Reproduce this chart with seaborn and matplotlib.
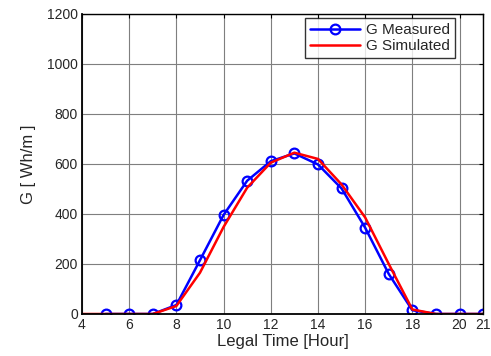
import matplotlib
matplotlib.use('Agg')
import matplotlib.pyplot as plt
import seaborn as sns
import pandas as pd

# ---------- data ----------
hours_meas = [5, 6, 7, 8, 9, 10, 11, 12, 13, 14, 15, 16, 17, 18, 19, 20, 21]
g_meas = [0, 0, 0, 36, 215, 396, 533, 611, 642, 598, 502, 345, 160, 15, 0, 0, 0]

hours_sim = [4, 5, 6, 7, 8, 9, 10, 11, 12, 13, 14, 15, 16, 17, 18, 19, 20, 21]
g_sim = [0, 0, 0, 0, 32, 165, 348, 505, 605, 645, 620, 518, 386, 200, 18, 0, 0, 0]

x_ticks = [4, 6, 8, 10, 12, 14, 16, 18, 20, 21]
y_ticks = [0, 200, 400, 600, 800, 1000, 1200]

df_meas = pd.DataFrame({'hour': hours_meas, 'G': g_meas})
df_sim = pd.DataFrame({'hour': hours_sim, 'G': g_sim})

# ---------- plot ----------
sns.set_style('white')
plt.rcParams['font.family'] = ['Liberation Sans', 'DejaVu Sans']

fig, ax = plt.subplots(figsize=(4.91, 3.56), dpi=100)
fig.subplots_adjust(left=0.167, right=0.984, bottom=0.118, top=0.961)

sns.lineplot(data=df_meas, x='hour', y='G', ax=ax, color='#0000ff', lw=1.8,
             marker='o', markersize=7, markerfacecolor='none',
             markeredgecolor='#0000ff', markeredgewidth=1.6, label='G Measured')
sns.lineplot(data=df_sim, x='hour', y='G', ax=ax, color='#ff0000', lw=1.8,
             label='G Simulated')

ax.set_xlim(4, 21)
ax.set_ylim(0, 1200)
ax.set_xticks(x_ticks)
ax.set_yticks(y_ticks)
ax.tick_params(direction='in', length=3, width=0.8, labelsize=10, color='black',
               top=True, right=True, pad=3)
ax.grid(True, color='#7f7f7f', lw=0.8)
for s in ax.spines.values():
    s.set_color('black')
    s.set_linewidth(1.0)
ax.spines['left'].set_linewidth(1.3)
ax.spines['bottom'].set_linewidth(1.3)

ax.set_xlabel('Legal Time [Hour]', fontsize=12, labelpad=1)
ax.set_ylabel('G [ Wh/m ]', fontsize=12, labelpad=8)

leg = ax.legend(loc='upper right', bbox_to_anchor=(0.93, 0.985), fontsize=11,
                frameon=True, fancybox=False, edgecolor='black', borderpad=0.3,
                handlelength=3.3, handletextpad=0.4, labelspacing=0.15,
                borderaxespad=0)
leg.get_frame().set_linewidth(1.0)

plt.savefig('out.png', dpi=100)
